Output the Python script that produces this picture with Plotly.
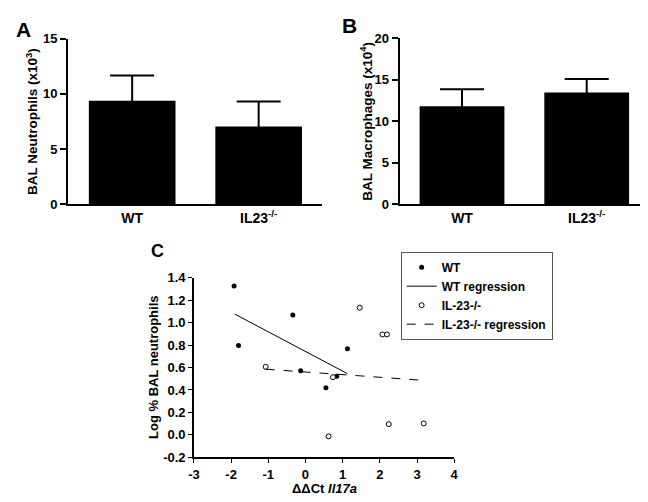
import plotly.graph_objects as go

# ---- data ----
groups = ["WT", "IL23<sup>-/-</sup>"]
neut_mean = [9.38, 7.04]
neut_top = [11.67, 9.30]
mac_mean = [11.81, 13.45]
mac_top = [13.84, 15.09]
neut_ticks = [0, 5, 10, 15]
mac_ticks = [0, 5, 10, 15, 20]

wt_x = [-1.92, -1.80, -0.34, -0.13, 0.55, 0.84, 1.13]
wt_y = [1.325, 0.796, 1.066, 0.571, 0.419, 0.522, 0.767]
ko_x = [-1.07, 0.74, 0.62, 1.46, 2.07, 2.19, 2.24, 3.18]
ko_y = [0.606, 0.514, -0.013, 1.132, 0.894, 0.894, 0.096, 0.102]
wt_reg_x = [-1.90, 1.13]
wt_reg_y = [1.075, 0.545]
ko_reg_x = [-1.07, 3.19]
ko_reg_y = [0.585, 0.485]
c_xticks = [-3, -2, -1, 0, 1, 2, 3, 4]
c_yticks = [-0.2, 0.0, 0.2, 0.4, 0.6, 0.8, 1.0, 1.2, 1.4]

FONT = "Arial, Liberation Sans, sans-serif"
fig = go.Figure()

def err(top, mean):
    return [t - m for t, m in zip(top, mean)]

def bold(vals, fmt="{}"):
    return ["<b>" + fmt.format(v) + "</b>" for v in vals]

fig.add_trace(go.Bar(x=[0, 1], y=neut_mean, width=0.685, marker=dict(color="black", line=dict(width=0)),
                     error_y=dict(type="data", symmetric=True, array=err(neut_top, neut_mean),
                                  color="black", thickness=2, width=22),
                     xaxis="x", yaxis="y", showlegend=False))
fig.add_trace(go.Bar(x=[0, 1], y=mac_mean, width=0.68, marker=dict(color="black", line=dict(width=0)),
                     error_y=dict(type="data", symmetric=True, array=err(mac_top, mac_mean),
                                  color="black", thickness=2, width=22),
                     xaxis="x2", yaxis="y2", showlegend=False))

fig.add_trace(go.Scatter(x=wt_x, y=wt_y, mode="markers", name="WT",
                         marker=dict(color="black", size=5), xaxis="x3", yaxis="y3"))
fig.add_trace(go.Scatter(x=wt_reg_x, y=wt_reg_y, mode="lines", name="WT regression",
                         line=dict(color="black", width=1), xaxis="x3", yaxis="y3"))
fig.add_trace(go.Scatter(x=ko_x, y=ko_y, mode="markers", name="IL-23-/-",
                         marker=dict(color="white", size=5, line=dict(color="black", width=1)),
                         xaxis="x3", yaxis="y3"))
fig.add_trace(go.Scatter(x=ko_reg_x, y=ko_reg_y, mode="lines", name="IL-23-/- regression",
                         line=dict(color="black", width=1, dash="dash"), xaxis="x3", yaxis="y3"))

tickfont = dict(family=FONT, size=13, color="black")
bar_x = dict(tickmode="array", tickvals=[0, 1], ticktext=bold(groups), showline=True, linewidth=2,
             linecolor="black", ticks="", showgrid=False, zeroline=False,
             tickfont=dict(family=FONT, size=14, color="black"))
bar_y = dict(showline=True, linewidth=2, linecolor="black", ticks="outside", ticklen=6, tickwidth=2,
             tickcolor="black", showgrid=False, zeroline=False, tickfont=tickfont, tickmode="array")

fig.update_layout(
    width=648, height=502, margin=dict(l=0, r=0, t=0, b=0),
    paper_bgcolor="white", plot_bgcolor="white",
    font=dict(family=FONT, color="black"),
    xaxis=dict(domain=[0.0849, 0.483], range=[-0.506, 1.502], anchor="y", **bar_x),
    yaxis=dict(domain=[0.6116, 0.9512], range=[0, 15], tickvals=neut_ticks, ticktext=bold(neut_ticks),
               anchor="x", **bar_y),
    xaxis2=dict(domain=[0.6045, 0.9954], range=[-0.5, 1.5], anchor="y2", **bar_x),
    yaxis2=dict(domain=[0.6116, 0.9522], range=[0, 20], tickvals=mac_ticks, ticktext=bold(mac_ticks),
                anchor="x2", **bar_y),
    xaxis3=dict(domain=[0.282, 0.690], range=[-3, 4], tickmode="array", tickvals=c_xticks,
                ticktext=bold(c_xticks), anchor="y3", showline=True, linewidth=1.5,
                linecolor="black", ticks="outside", ticklen=4, tickcolor="black", showgrid=False, zeroline=False,
                tickfont=dict(family=FONT, size=13, color="black")),
    yaxis3=dict(domain=[0.0916, 0.4608], range=[-0.2, 1.4], tickmode="array", tickvals=c_yticks,
                ticktext=bold(c_yticks, "{:.1f}"), anchor="x3",
                showline=True, linewidth=1.5, linecolor="black", ticks="outside", ticklen=4, tickcolor="black",
                showgrid=False, zeroline=False, tickfont=dict(family=FONT, size=13, color="black")),
    legend=dict(x=0.606, y=0.514, xanchor="left", yanchor="top", bordercolor="#555", borderwidth=1,
                bgcolor="white", font=dict(family=FONT, size=12, color="black", weight="bold"),
                tracegroupgap=0, itemwidth=30),
    showlegend=True,
)

ann = [
    dict(text="<b>A</b>", x=10/648, y=1-14.5/502, font=dict(size=21)),
    dict(text="<b>B</b>", x=340.5/648, y=1-11/502, font=dict(size=21)),
    dict(text="<b>C</b>", x=146/648, y=1-243.5/502, font=dict(size=18)),
    dict(text="<b>BAL Neutrophils (x10<sup>3</sup>)</b>", x=17.5/648, y=1-110/502, textangle=-90, font=dict(size=13.5)),
    dict(text="<b>BAL Macrophages (x10<sup>4</sup>)</b>", x=357.5/648, y=1-109/502, textangle=-90, font=dict(size=13.5)),
    dict(text="<b>Log % BAL neutrophils</b>", x=141/648, y=1-363/502, textangle=-90, font=dict(size=13)),
    dict(text="<b>ΔΔCt <i>Il17a</i></b>", x=315/648, y=1-488/502, font=dict(size=13)),
]
for a in ann:
    a.update(xref="paper", yref="paper", showarrow=False, xanchor="center", yanchor="middle")
    a["font"].update(family=FONT, color="black")
fig.update_layout(annotations=ann)

fig.write_html("out.html")
